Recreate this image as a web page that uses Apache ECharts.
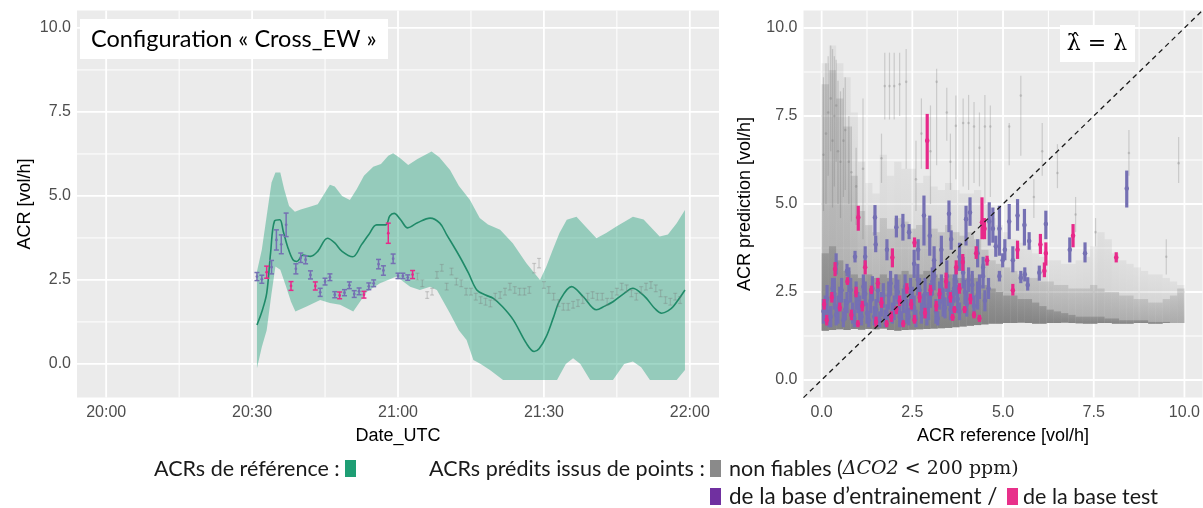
<!DOCTYPE html>
<html><head><meta charset="utf-8">
<script src="https://cdn.jsdelivr.net/npm/echarts@6/dist/echarts.min.js"></script>
<style>html,body{margin:0;padding:0;background:#fff}#c{width:1203px;height:508px}</style>
</head><body><div id="c"></div><script>
// ---------- axis ticks ----------
const timeTicks = [0, 30, 60, 90, 120];            // minutes after 20:00
const timeLabels = ['20:00', '20:30', '21:00', '21:30', '22:00'];
const timeMinor = [15, 45, 75, 105];
const acrTicks = [0, 2.5, 5, 7.5, 10];
const acrLabels = ['0.0', '2.5', '5.0', '7.5', '10.0'];
const acrMinor = [1.25, 3.75, 6.25, 8.75];

// ---------- left panel: reference ACR band [minute, vol/h] ----------
const bandUpper = [[31.0,2.75],[32.0,3.4],[33.0,4.4],[34.0,5.4],[34.8,5.7],[35.8,5.7],[36.6,5.2],[37.6,4.7],[38.8,4.53],[40.0,4.6],[41.9,4.68],[43.5,4.75],[45.0,5.1],[46.0,5.33],[47.0,5.28],[48.5,5.0],[50.1,4.88],[51.5,5.2],[53.0,5.6],[54.9,5.87],[56.5,5.95],[58.0,6.2],[59.0,6.27],[60.4,6.13],[62.1,5.92],[64.0,6.1],[66.9,6.32],[68.5,6.15],[70.7,5.77],[72.5,5.3],[74.8,4.88],[76.8,4.34],[78.5,4.15],[81.0,3.99],[83.6,3.59],[86.4,3.0],[89.2,2.5],[90.5,2.9],[91.8,3.39],[93.2,3.9],[94.7,4.29],[96.7,4.38],[98.5,4.1],[100.8,3.74],[102.8,3.9],[104.9,4.09],[108.3,4.38],[110.5,4.3],[113.8,3.79],[115.5,3.85],[117.3,4.19],[119.0,4.58]];
const bandLower = [[31.0,-0.13],[32.0,0.5],[33.0,1.0],[34.0,2.1],[34.8,2.9],[35.8,2.8],[37.0,2.3],[38.0,1.85],[38.9,1.56],[41.2,1.71],[44.0,1.9],[46.0,1.81],[48.1,1.76],[50.8,1.56],[53.6,2.15],[56.3,2.4],[59.7,2.6],[62.5,2.3],[64.5,2.2],[66.6,2.3],[68.0,2.2],[70.7,1.5],[72.5,1.0],[74.1,0.71],[75.5,0.12],[77.0,0.0],[78.9,-0.18],[81.6,-0.48],[92.7,-0.48],[94.5,0.0],[96.0,0.17],[97.5,0.0],[99.5,-0.48],[104.2,-0.48],[106.5,0.0],[108.3,0.07],[110.0,-0.1],[111.8,-0.48],[117.3,-0.48],[119.0,-0.18]];
const refMean = [[31.0,1.16],[32.0,1.55],[33.0,2.1],[33.8,3.3],[34.6,4.25],[35.7,4.29],[36.4,3.95],[37.3,3.49],[38.4,3.1],[39.2,3.05],[40.5,3.24],[42.0,3.2],[43.5,3.35],[45.5,3.74],[47.0,3.6],[48.5,3.35],[50.7,3.19],[52.5,3.55],[54.0,3.85],[55.6,4.14],[57.5,4.14],[58.3,4.4],[59.2,4.48],[60.5,4.3],[62.0,4.05],[64.0,4.2],[66.6,4.34],[68.6,4.19],[70.0,3.85],[72.7,3.19],[74.5,2.7],[76.2,2.2],[78.0,2.05],[79.6,1.95],[81.5,1.7],[83.7,1.31],[86.4,0.61],[88.0,0.37],[89.0,0.45],[90.5,0.82],[92.0,1.4],[93.3,1.9],[95.7,2.3],[98.1,2.0],[100.8,1.61],[102.5,1.72],[104.2,1.85],[106.5,2.1],[108.3,2.25],[110.0,2.1],[111.1,1.95],[112.8,1.65],[114.2,1.51],[115.5,1.58],[116.6,1.71],[119.0,2.2]];

// ---------- left panel: predicted ACR [minute, value, half error] ----------
const trainLeft = [[31,2.60,0.12],[32,2.52,0.12],[34,2.88,0.2],[35,3.69,0.3],[36,3.56,0.28],[37,4.14,0.35],[39,2.83,0.15],[40,3.16,0.14],[41,3.10,0.12],[42,2.65,0.12],[44,2.13,0.12],[45,2.45,0.1],[46,2.58,0.1],[47,2.06,0.09],[49,2.12,0.09],[50,2.34,0.1],[51,2.08,0.1],[52,2.16,0.1],[54,2.31,0.1],[55,2.40,0.1],[56,2.97,0.14],[57,2.78,0.14],[59,3.13,0.14],[60,2.62,0.08],[61,2.62,0.08],[62,2.57,0.08]];
const testLeft = [[33,2.73,0.18],[38,2.32,0.13],[43,2.32,0.12],[48,2.04,0.1],[53,2.06,0.1],[58,3.89,0.3],[63,2.66,0.12]];
const unreliableLeft = [[64,2.6,0.1],[65,2.4,0.1],[66,2.05,0.1],[67,2.15,0.1],[68,2.65,0.1],[69,2.86,0.1],[70,2.3,0.1],[71,2.75,0.1],[72,2.45,0.1],[73,2.4,0.1],[74,2.15,0.1],[75,2.15,0.1],[76,2.0,0.1],[77,1.9,0.1],[78,1.85,0.1],[79,1.8,0.1],[80,2.0,0.1],[81,2.05,0.1],[82,2.15,0.1],[83,2.3,0.1],[84,2.2,0.1],[85,2.15,0.1],[86,2.15,0.1],[87,2.2,0.1],[88,2.85,0.14],[89,3.0,0.14],[90,2.35,0.1],[91,2.2,0.1],[92,2.0,0.1],[93,1.81,0.1],[94,1.7,0.1],[95,1.7,0.1],[96,1.76,0.1],[97,1.81,0.1],[98,1.9,0.1],[99,2.0,0.1],[100,2.05,0.1],[101,2.0,0.1],[102,2.0,0.1],[103,1.85,0.1],[104,2.05,0.1],[105,2.15,0.1],[106,2.3,0.1],[107,2.25,0.1],[108,2.1,0.1],[109,2.0,0.1],[110,2.2,0.1],[111,2.3,0.1],[112,2.35,0.1],[113,2.25,0.1],[114,2.1,0.1],[115,1.9,0.1],[116,1.85,0.1],[117,2.0,0.1],[118,1.9,0.1]];

// ---------- right panel: unreliable predictions cloud (0.2 wide bins of ACR reference) ----------
const cloudX = [0.1,0.3,0.5,0.7,0.9,1.1,1.3,1.5,1.7,1.9,2.1,2.3,2.5,2.7,2.9,3.1,3.3,3.5,3.7,3.9,4.1,4.3,4.5,4.7,4.9,5.1,5.3,5.5,5.7,5.9,6.1,6.3,6.5,6.7,6.9,7.1,7.3,7.5,7.7,7.9,8.1,8.3,8.5,8.7,8.9,9.1,9.3,9.5,9.7,9.9];
const cloudLo = [1.40,1.42,1.44,1.42,1.45,1.43,1.45,1.44,1.46,1.42,1.40,1.42,1.43,1.44,1.45,1.46,1.47,1.48,1.50,1.52,1.54,1.56,1.58,1.60,1.60,1.62,1.62,1.63,1.62,1.60,1.60,1.62,1.62,1.63,1.62,1.61,1.60,1.60,1.62,1.62,1.60,1.60,1.60,1.62,1.62,1.60,1.60,1.62,1.62,1.62];
const hazeHi = [9.0,9.5,9.0,8.6,7.6,6.2,5.6,5.3,6.4,5.8,6.2,6.0,6.0,5.6,5.8,5.5,5.4,5.6,5.4,5.3,5.3,5.4,5.0,4.6,4.4,4.2,4.0,3.9,3.8,3.6,3.5,3.4,3.4,3.3,3.3,3.4,3.5,3.8,4.2,4.0,3.6,3.4,3.3,3.2,3.1,3.0,3.0,2.9,2.8,2.7];
const denseHi = [8.4,8.8,8.0,7.2,5.8,4.8,4.4,4.2,4.6,4.3,4.6,4.5,4.3,4.4,4.6,4.3,4.2,4.4,4.2,4.1,4.2,4.0,3.7,3.4,3.3,3.2,3.1,3.0,2.9,2.9,2.8,2.8,2.7,2.7,2.6,2.6,2.6,2.7,2.6,2.5,2.5,2.4,2.4,2.3,2.3,2.2,2.2,2.3,2.4,2.6];
const coreHi = [3.6,3.8,3.4,3.1,3.0,2.9,3.0,2.9,3.0,2.9,3.0,3.1,3.0,3.0,3.1,3.0,2.9,3.0,2.9,2.9,3.0,2.9,2.7,2.6,2.5,2.4,2.4,2.3,2.3,2.2,2.1,2.0,1.95,1.9,1.85,1.8,1.8,1.8,1.8,1.75,1.75,1.7,1.7,1.7,1.7,1.65,1.65,1.65,1.6,1.6];
const cloudBin = 0.2;

// ---------- right panel: predictions [ACR ref, ACR pred, low, high] ----------
const unreliableRight = [[1.74,8.35,7.40,9.30],[1.87,8.35,7.40,9.30],[2.00,8.35,7.40,9.30],[2.15,8.40,7.50,9.30],[2.33,8.47,6.00,9.40],[3.17,8.47,6.10,8.84],[3.70,7.22,5.70,8.08],[3.90,7.30,5.50,8.00],[4.05,7.30,5.40,8.10],[4.20,7.20,5.60,7.90],[4.50,7.20,5.00,8.10],[4.65,7.20,5.20,7.80],[5.17,7.20,6.10,7.30],[5.49,8.08,6.37,8.64],[6.08,6.50,5.80,7.30],[6.50,5.88,5.45,6.70],[8.47,6.45,5.80,7.10],[9.84,6.16,5.60,6.90],[1.14,6.00,4.00,8.00],[1.65,6.30,5.60,7.00],[2.60,5.70,4.80,6.80],[3.00,6.50,5.00,7.80],[0.12,7.00,5.00,9.00],[0.25,8.00,6.50,9.50],[0.35,7.50,5.50,9.20],[0.45,6.50,5.00,8.50],[0.60,6.80,5.20,8.30],[0.75,6.20,5.00,7.50],[2.75,7.00,6.00,8.00],[3.45,7.60,6.80,8.30],[3.55,6.20,5.40,7.00],[4.35,6.60,5.50,7.60],[5.85,5.20,4.60,5.70],[7.00,4.70,4.20,5.20],[7.55,4.20,3.80,4.60],[9.50,3.50,3.00,4.00],
[0.05,6.40,4.80,8.60],[0.18,7.60,5.80,9.20],[0.30,6.80,4.90,9.40],[0.40,7.80,6.20,9.10],[0.52,6.20,4.60,8.20],[0.65,7.10,5.40,8.60],[0.82,5.90,4.50,7.20],[0.95,5.50,4.40,6.60]];
const trainRight = [[8.41,5.44,4.90,5.95],[1.47,4.62,4.10,4.97],[1.49,3.85,3.63,4.10],[0.92,3.50,3.34,3.67],[2.06,4.34,4.05,4.67],[2.24,4.38,3.96,4.72],[2.41,4.20,4.00,4.43],[2.82,4.67,3.82,5.24],[2.98,4.10,3.53,4.67],[2.66,3.70,3.40,4.00],[3.51,4.72,4.20,5.10],[3.57,4.00,3.70,4.25],[3.98,4.57,3.82,4.95],[4.09,4.76,4.38,5.19],[4.62,4.50,3.82,5.05],[4.72,4.30,3.90,4.90],[4.90,4.30,3.53,4.95],[5.17,4.50,4.00,5.00],[5.40,4.67,4.24,5.14],[5.59,4.40,3.82,4.86],[5.72,3.95,3.70,4.20],[6.18,4.43,4.00,4.81],[6.84,3.70,3.34,4.05],[7.26,3.60,3.34,3.91],[5.27,3.40,3.06,3.80],[4.99,3.40,3.20,3.60],[6.00,3.05,2.82,3.25],[5.68,2.70,2.54,2.92],[5.49,2.90,2.75,3.10],[4.90,2.95,2.80,3.10],[3.30,3.70,3.30,4.10],[3.10,3.40,3.00,3.80],[2.55,3.30,2.90,3.70],[3.80,3.50,3.10,3.90],[4.30,3.60,3.20,4.00],[4.45,3.20,2.90,3.50],[0.40,3.30,3.00,3.60],[0.70,3.10,2.95,3.30],[1.20,3.50,3.20,3.80],[1.80,3.70,3.40,4.00],
[0.05,1.95,1.60,2.30],[0.15,2.30,1.90,2.70],[0.25,1.80,1.50,2.10],[0.35,2.45,2.00,2.90],[0.45,2.00,1.60,2.40],[0.55,2.55,2.20,2.90],[0.65,2.00,1.70,2.30],[0.75,2.85,2.50,3.20],[0.85,1.90,1.60,2.20],[0.95,2.40,2.00,2.80],[1.05,2.05,1.70,2.40],[1.15,2.65,2.30,3.00],[1.25,1.90,1.60,2.20],[1.35,2.25,1.90,2.60],[1.45,1.80,1.55,2.10],[1.55,2.55,2.20,2.90],[1.65,2.15,1.80,2.50],[1.75,1.75,1.50,2.00],[1.85,2.40,2.00,2.80],[1.95,1.90,1.60,2.20],[2.05,2.65,2.30,3.00],[2.15,1.80,1.50,2.10],[2.25,2.25,1.90,2.60],[2.35,1.95,1.60,2.30],[2.45,2.50,2.10,2.90],[2.55,2.05,1.70,2.40],[2.65,2.85,2.40,3.30],[2.75,1.90,1.60,2.20],[2.85,2.45,2.00,2.90],[2.95,2.10,1.70,2.50],[3.05,2.80,2.40,3.20],[3.15,1.95,1.60,2.30],[3.25,2.40,2.00,2.80],[3.35,2.20,1.80,2.60],[3.45,2.95,2.50,3.40],[3.55,2.00,1.70,2.30],[3.65,2.60,2.20,3.00],[3.75,2.30,1.90,2.70],[3.90,3.05,2.60,3.50],[4.00,2.15,1.80,2.50],[4.15,2.70,2.30,3.10],[4.30,2.40,2.00,2.80],[4.45,2.95,2.60,3.30],[4.60,2.60,2.30,2.90],[4.80,3.80,3.50,4.10],[5.05,3.70,3.40,4.00],[5.60,3.00,2.80,3.20],
[0.10,2.10,1.80,2.40],[0.20,1.75,1.50,2.00],[0.30,2.60,2.30,2.90],[0.40,1.85,1.55,2.15],[0.50,2.30,1.95,2.65],[0.60,1.70,1.50,1.95],[0.70,2.20,1.90,2.50],[0.80,2.55,2.20,2.90],[0.90,1.75,1.50,2.00],[1.00,2.20,1.90,2.50],[1.10,1.80,1.55,2.05],[1.20,2.45,2.10,2.80],[1.30,1.70,1.50,1.95],[1.40,2.60,2.25,2.95],[1.50,2.00,1.70,2.30],[1.60,1.70,1.50,1.95],[1.70,2.40,2.05,2.75],[1.80,1.85,1.55,2.15],[1.90,2.75,2.40,3.10],[2.00,2.05,1.70,2.40],[2.10,2.50,2.15,2.85],[2.20,1.70,1.50,1.95],[2.30,2.65,2.30,3.00],[2.40,1.80,1.55,2.05],[2.50,2.30,1.95,2.65],[2.60,1.75,1.50,2.00],[2.70,2.55,2.20,2.90],[2.80,2.10,1.75,2.45],[2.90,1.80,1.55,2.05],[3.00,2.40,2.05,2.75],[3.10,2.95,2.55,3.35],[3.20,1.75,1.55,1.95],[3.30,2.60,2.20,3.00],[3.40,2.05,1.75,2.35],[3.50,2.45,2.10,2.80],[3.60,2.20,1.85,2.55],[3.70,2.80,2.40,3.20],[3.80,1.95,1.70,2.20],[3.95,2.50,2.15,2.85],[4.05,2.85,2.50,3.20],[4.20,2.10,1.80,2.40],[4.35,2.65,2.30,3.00],[4.50,2.25,1.95,2.55]];
const testRight = [[1.01,4.62,4.24,4.95],[2.91,6.80,5.99,7.56],[1.95,3.48,3.20,3.74],[2.56,3.90,3.77,4.05],[4.42,4.48,4.00,5.19],[4.49,4.30,4.00,4.60],[4.56,3.40,3.25,3.53],[5.40,3.70,3.44,3.96],[6.03,3.85,3.58,4.15],[6.18,3.60,3.25,3.91],[6.14,3.10,2.92,3.34],[5.27,2.55,2.40,2.73],[6.93,4.10,3.77,4.43],[8.12,3.48,3.34,3.63],[3.89,3.35,3.10,3.58],[4.26,3.60,3.44,3.80],[0.71,2.80,2.70,2.92],[0.07,2.15,2.00,2.30],[0.37,3.15,2.95,3.35],[1.37,2.55,2.44,2.68],[1.65,2.20,2.05,2.35],[1.92,1.80,1.65,1.95],[2.06,2.00,1.87,2.10],[2.15,2.25,2.10,2.40],[2.47,2.15,2.00,2.30],[2.70,2.35,2.20,2.50],[3.16,2.10,1.95,2.25],[3.43,2.80,2.60,3.05],[3.61,1.78,1.68,1.88],[3.66,2.00,1.90,2.10],[3.94,2.00,1.90,2.10],[4.35,1.75,1.65,1.85],[2.56,1.70,1.60,1.85],[0.82,1.85,1.70,2.00],[0.14,1.70,1.55,1.85],[0.50,2.05,1.95,2.20],[1.50,1.65,1.50,1.80],[1.79,1.60,1.50,1.70],[3.71,3.20,3.00,3.40],[1.20,3.20,3.00,3.40],
[0.28,2.35,2.20,2.50],[0.95,2.50,2.35,2.65],[1.12,2.10,1.95,2.25],[1.55,2.75,2.60,2.90],[2.35,2.60,2.45,2.75],[2.85,1.90,1.75,2.05],[3.00,2.55,2.40,2.70],[3.25,2.45,2.30,2.60],[3.55,2.35,2.20,2.50],[3.80,2.60,2.45,2.75],[4.10,2.30,2.15,2.45],[4.20,1.85,1.75,1.95],[2.25,1.60,1.50,1.70],[1.00,1.60,1.50,1.70]];
const identityRange = [-0.5, 10.5];

// ---------- colours ----------
const GREEN = '#1b9e77', PURPLE = '#7570b3', PINK = '#e7298a';

function errBars(color, lw, dotR, capW) {
  return function (params, api) {
    const x = api.value(0), y = api.value(1), lo = api.value(2), hi = api.value(3);
    const a = api.coord([x, lo]), b = api.coord([x, hi]), c = api.coord([x, y]);
    const kids = [{type: 'line', shape: {x1: a[0], y1: a[1], x2: b[0], y2: b[1]}, style: {stroke: color, lineWidth: lw}}];
    if (capW) {
      kids.push({type: 'line', shape: {x1: a[0] - capW / 2, y1: a[1], x2: a[0] + capW / 2, y2: a[1]}, style: {stroke: color, lineWidth: lw}});
      kids.push({type: 'line', shape: {x1: b[0] - capW / 2, y1: b[1], x2: b[0] + capW / 2, y2: b[1]}, style: {stroke: color, lineWidth: lw}});
    }
    if (dotR) kids.push({type: 'circle', shape: {cx: c[0], cy: c[1], r: dotR}, style: {fill: color}});
    return {type: 'group', children: kids};
  };
}
function grad(rgb, a0, a1) {
  return {type: 'linear', x: 0, y: 0, x2: 0, y2: 1, colorStops: [
    {offset: 0, color: 'rgba(' + rgb + ',' + a0 + ')'}, {offset: 1, color: 'rgba(' + rgb + ',' + a1 + ')'}]};
}
function cloudTier(fill) {
  return function (params, api) {
    const x = api.value(0), lo = api.value(1), hi = api.value(2);
    if (hi <= lo) return null;
    const p1 = api.coord([x - cloudBin / 2, hi]), p2 = api.coord([x + cloudBin / 2, lo]);
    return {type: 'rect', shape: {x: p1[0], y: p1[1], width: p2[0] - p1[0], height: p2[1] - p1[1]}, style: {fill: fill}};
  };
}
// panel background + ggplot-like white grid, positioned from the tick arrays
function panel(xMaj, xMin, yMaj, yMin) {
  return function (params, api) {
    if (params.dataIndex !== 0) return null;
    const cs = params.coordSys;
    const kids = [{type: 'rect', shape: {x: cs.x, y: cs.y, width: cs.width, height: cs.height}, style: {fill: '#ebebeb'}}];
    const vline = (v, w) => { const x = api.coord([v, 0])[0]; kids.push({type: 'line', shape: {x1: x, y1: cs.y, x2: x, y2: cs.y + cs.height}, style: {stroke: '#ffffff', lineWidth: w}}); };
    const hline = (v, w) => { const y = api.coord([0, v])[1]; kids.push({type: 'line', shape: {x1: cs.x, y1: y, x2: cs.x + cs.width, y2: y}, style: {stroke: '#ffffff', lineWidth: w}}); };
    xMin.forEach(v => vline(v, 1.0)); yMin.forEach(v => hline(v, 1.0));
    xMaj.forEach(v => vline(v, 1.8)); yMaj.forEach(v => hline(v, 1.8));
    return {type: 'group', children: kids};
  };
}
const withErr = rows => rows.map(r => [r[0], r[1], r[1] - r[2], r[1] + r[2]]);

const tickLabel = {color: '#4d4d4d', fontSize: 16, fontFamily: 'Liberation Sans, Arial, sans-serif'};
const tickStyle = {show: true, length: 4, lineStyle: {color: '#333333', width: 1.1}};
function valAxis(grid, min, max, ticks, labels, isY) {
  return {
    type: 'value', gridIndex: grid, min: min, max: max,
    splitLine: {show: false}, axisLine: {show: false},
    axisTick: Object.assign({customValues: ticks}, tickStyle),
    axisLabel: Object.assign({customValues: ticks, margin: isY ? 6 : 7, formatter: v => labels[ticks.indexOf(v)]}, tickLabel)
  };
}

const chart = echarts.init(document.getElementById('c'), null, {renderer: 'canvas'});
const titleFont = 'Liberation Sans, Arial, sans-serif';
const calibri = 'Lato, "Open Sans", sans-serif';
const LEG = '21.5px ' + calibri;
chart.setOption({
  animation: false,
  backgroundColor: '#ffffff',
  grid: [
    {left: 77, top: 10.5, width: 642, height: 387, show: false},
    {left: 803.5, top: 10.4, width: 400.4, height: 387.2, show: false}
  ],
  xAxis: [valAxis(0, -6, 126, timeTicks, timeLabels, false), valAxis(1, -0.5, 10.5, acrTicks, acrLabels, false)],
  yAxis: [valAxis(0, -1.0, 10.52, acrTicks, acrLabels, true), valAxis(1, -0.5, 10.5, acrTicks, acrLabels, true)],
  series: [
    {type: 'custom', xAxisIndex: 0, yAxisIndex: 0, z: 1, silent: true, clip: false, renderItem: panel(timeTicks, timeMinor, acrTicks, acrMinor), data: [[0, 0]]},
    {type: 'custom', xAxisIndex: 1, yAxisIndex: 1, z: 1, silent: true, clip: false, renderItem: panel(acrTicks, acrMinor, acrTicks, acrMinor), data: [[0, 0]]},
    // left: reference band + mean
    {type: 'custom', xAxisIndex: 0, yAxisIndex: 0, z: 2, silent: true, data: bandUpper,
     renderItem: function (params, api) {
       if (params.dataIndex !== 0) return null;
       const pts = bandUpper.map(p => api.coord(p)).concat(bandLower.slice().reverse().map(p => api.coord(p)));
       return {type: 'polygon', shape: {points: pts}, style: {fill: GREEN, opacity: 0.41}};
     }},
    {type: 'line', xAxisIndex: 0, yAxisIndex: 0, z: 3, data: refMean, smooth: 0.35, showSymbol: false, symbol: 'none',
     lineStyle: {color: '#1f8a68', width: 1.6}},
    {type: 'custom', xAxisIndex: 0, yAxisIndex: 0, z: 4, renderItem: errBars('rgba(120,120,120,0.32)', 1.2, 0, 4), data: withErr(unreliableLeft)},
    {type: 'custom', xAxisIndex: 0, yAxisIndex: 0, z: 5, renderItem: errBars(PURPLE, 1.5, 1.4, 5), data: withErr(trainLeft)},
    {type: 'custom', xAxisIndex: 0, yAxisIndex: 0, z: 5, renderItem: errBars(PINK, 1.5, 1.4, 5), data: withErr(testLeft)},
    // right: unreliable cloud
    {type: 'custom', xAxisIndex: 1, yAxisIndex: 1, z: 2, renderItem: cloudTier(grad('140,140,140', 0.12, 0.3)), data: cloudX.map((x, i) => [x, cloudLo[i], hazeHi[i]])},
    {type: 'custom', xAxisIndex: 1, yAxisIndex: 1, z: 2, renderItem: cloudTier(grad('128,128,128', 0.25, 0.45)), data: cloudX.map((x, i) => [x, cloudLo[i], denseHi[i]])},
    {type: 'custom', xAxisIndex: 1, yAxisIndex: 1, z: 2, renderItem: cloudTier(grad('115,115,115', 0.45, 0.7)), data: cloudX.map((x, i) => [x, cloudLo[i], coreHi[i]])},
    {type: 'custom', xAxisIndex: 1, yAxisIndex: 1, z: 3, renderItem: errBars('rgba(105,105,105,0.25)', 1.2, 1.3, 0), data: unreliableRight},
    {type: 'custom', xAxisIndex: 1, yAxisIndex: 1, z: 4, renderItem: errBars(PURPLE, 3.2, 2.3, 0), data: trainRight},
    {type: 'custom', xAxisIndex: 1, yAxisIndex: 1, z: 4, renderItem: errBars(PINK, 3.2, 2.3, 0), data: testRight},
    {type: 'line', xAxisIndex: 1, yAxisIndex: 1, z: 6, showSymbol: false, symbol: 'none',
     data: identityRange.map(v => [v, v]), lineStyle: {color: '#1a1a1a', width: 1.3, type: [5, 4]}}
  ],
  graphic: [
    {type: 'rect', shape: {x: 80, y: 19, width: 308, height: 40}, style: {fill: '#ffffff'}, z: 10},
    {type: 'text', x: 91, y: 39, z: 11, style: {text: 'Configuration « Cross_EW »', font: '23.5px ' + calibri, fill: '#000', align: 'left', verticalAlign: 'middle'}},
    {type: 'rect', shape: {x: 1060, y: 25, width: 75, height: 37}, style: {fill: '#ffffff'}, z: 10},
    {type: 'text', x: 1097, y: 44, z: 11, style: {text: 'λ̂ = λ', font: '22px "DejaVu Serif", serif', fill: '#000', align: 'center', verticalAlign: 'middle'}},
    {type: 'text', x: 25, y: 204, rotation: Math.PI / 2, z: 11, style: {text: 'ACR [vol/h]', font: '18px ' + titleFont, fill: '#000', align: 'center', verticalAlign: 'middle'}},
    {type: 'text', x: 398, y: 436, z: 11, style: {text: 'Date_UTC', font: '18px ' + titleFont, fill: '#000', align: 'center', verticalAlign: 'middle'}},
    {type: 'text', x: 745, y: 204, rotation: Math.PI / 2, z: 11, style: {text: 'ACR prediction [vol/h]', font: '18px ' + titleFont, fill: '#000', align: 'center', verticalAlign: 'middle'}},
    {type: 'text', x: 1003, y: 436, z: 11, style: {text: 'ACR reference [vol/h]', font: '18px ' + titleFont, fill: '#000', align: 'center', verticalAlign: 'middle'}},
    // legend
    {type: 'text', x: 154, y: 469, z: 11, style: {text: 'ACRs de référence :', font: LEG, fill: '#1a1a1a', align: 'left', verticalAlign: 'middle'}},
    {type: 'rect', shape: {x: 345, y: 460, width: 11, height: 17}, style: {fill: '#1e9e74'}},
    {type: 'text', x: 429, y: 469, z: 11, style: {text: 'ACRs prédits issus de points :', font: LEG, fill: '#1a1a1a', align: 'left', verticalAlign: 'middle'}},
    {type: 'rect', shape: {x: 710, y: 460, width: 11, height: 17}, style: {fill: '#8a8a8a'}},
    {type: 'text', x: 729, y: 469, z: 11, style: {text: '{n|non fiables (}{m|ΔCO2}{s| < 200 ppm)}', fill: '#1a1a1a', align: 'left', verticalAlign: 'middle',
      rich: {n: {font: LEG, fill: '#1a1a1a'}, m: {font: 'italic 19px "DejaVu Serif", serif', fill: '#1a1a1a'}, s: {font: '19px "DejaVu Serif", serif', fill: '#1a1a1a'}}}},
    {type: 'rect', shape: {x: 710, y: 488, width: 11, height: 17}, style: {fill: '#7030a0'}},
    {type: 'text', x: 729, y: 497, z: 11, style: {text: 'de la base d’entrainement /', font: '22.5px ' + calibri, fill: '#1a1a1a', align: 'left', verticalAlign: 'middle'}},
    {type: 'rect', shape: {x: 1007, y: 488, width: 11, height: 17}, style: {fill: '#e8308a'}},
    {type: 'text', x: 1023, y: 497, z: 11, style: {text: 'de la base test', font: LEG, fill: '#1a1a1a', align: 'left', verticalAlign: 'middle'}}
  ]
});
</script></body></html>
